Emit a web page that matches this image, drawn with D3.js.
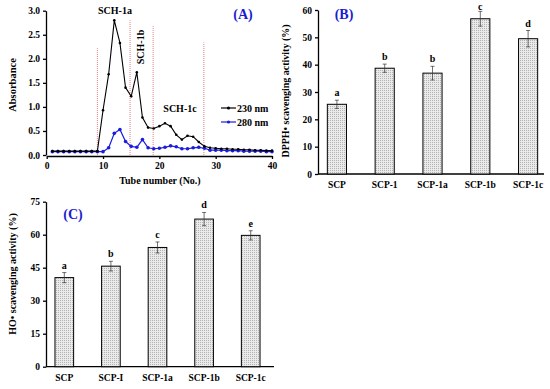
<!DOCTYPE html>
<html>
<head>
<meta charset="utf-8">
<script src="https://cdn.jsdelivr.net/npm/d3@7"></script>
<style>
  body { margin: 0; background: #fff; }
  svg text { font-family: "Liberation Serif", "Times New Roman", serif; font-weight: bold; }
</style>
</head>
<body>
<div id="chart"></div>
<script>
// panel A: elution profile
var tubes = d3.range(1, 41);
var abs230 = [0.08,0.08,0.08,0.08,0.08,0.08,0.08,0.08,0.08,0.93,1.68,2.8,2.33,1.4,1.22,1.72,0.78,0.57,0.55,0.6,0.66,0.6,0.42,0.32,0.4,0.38,0.27,0.18,0.15,0.14,0.13,0.13,0.12,0.12,0.11,0.11,0.1,0.1,0.09,0.09];
var abs280 = [0.07,0.07,0.07,0.07,0.07,0.07,0.07,0.07,0.07,0.07,0.15,0.45,0.53,0.28,0.18,0.16,0.32,0.15,0.13,0.14,0.16,0.19,0.17,0.13,0.13,0.15,0.16,0.14,0.1,0.1,0.1,0.09,0.09,0.09,0.08,0.08,0.08,0.08,0.07,0.07];
var cutTubes = [9, 14.8, 18.9, 27.9],
    cutTops = [2.22, 2.8, 2.68, 2.34];

// panel B: DPPH
var catsB = ["SCP", "SCP-1", "SCP-1a", "SCP-1b", "SCP-1c"];
var dpph = [25.5, 38.7, 36.9, 56.8, 49.5],
    dpphErr = [1.5, 1.5, 2.5, 2.7, 3.0],
    dpphLetters = ["a", "b", "b", "c", "d"];

// panel C: HO
var catsC = ["SCP", "SCP-I", "SCP-1a", "SCP-1b", "SCP-1c"];
var ho = [40.5, 45.7, 54.2, 67.1, 59.7],
    hoErr = [2.3, 2.2, 2.5, 3.0, 2.1],
    hoLetters = ["a", "b", "c", "d", "e"];

var svg = d3.select("#chart").append("svg")
  .attr("width", 550).attr("height", 389);

// light dotted fill like the original bars
var defs = svg.append("defs");
var pat = defs.append("pattern")
  .attr("id", "dots").attr("patternUnits", "userSpaceOnUse")
  .attr("width", 2).attr("height", 2);
pat.append("rect").attr("width", 2).attr("height", 2).attr("fill", "#eaeaea");
pat.append("rect").attr("width", 1).attr("height", 1).attr("fill", "#b4b4b4");

function styleAxis(g) {
  g.selectAll("path, line").attr("stroke", "#000").attr("stroke-width", 1.3);
  g.selectAll("text").attr("font-size", 9.5).attr("fill", "#000")
    .style("font-family", "'Liberation Serif', serif").style("font-weight", "bold");
}

// ---------- Panel A ----------
var xA = d3.scaleLinear().domain([0, 40]).range([46.7, 272]);
var yA = d3.scaleLinear().domain([0, 3]).range([155, 10.7]);

svg.append("g").attr("transform", "translate(0,156)")
  .call(d3.axisBottom(xA).tickValues([0, 10, 20, 30, 40]).tickSize(3).tickSizeOuter(0))
  .call(styleAxis);
svg.append("g").attr("transform", "translate(46,0)")
  .call(d3.axisLeft(yA).tickValues(d3.range(0, 3.01, 0.5)).tickFormat(d3.format(".1f")).tickSize(3).tickSizeOuter(0))
  .call(styleAxis);

svg.append("text").attr("x", 160).attr("y", 184).attr("text-anchor", "middle")
  .attr("font-size", 10).text("Tube number (No.)");
svg.append("text").attr("transform", "translate(16,85) rotate(-90)").attr("text-anchor", "middle")
  .attr("font-size", 10.5).text("Absorbance");

svg.selectAll(".cut").data(cutTubes).enter().append("line")
  .attr("x1", d => xA(d)).attr("x2", d => xA(d))
  .attr("y1", yA(0)).attr("y2", (d, i) => yA(cutTops[i]))
  .attr("stroke", "#e06060").attr("stroke-width", 0.8).attr("stroke-dasharray", "1,1");

var lineA = d3.line().x((d, i) => xA(tubes[i])).y(d => yA(d));
svg.append("path").datum(abs280).attr("d", lineA)
  .attr("fill", "none").attr("stroke", "#1c1ce0").attr("stroke-width", 1.2);
svg.selectAll(".p280").data(abs280).enter().append("circle")
  .attr("cx", (d, i) => xA(tubes[i])).attr("cy", d => yA(d)).attr("r", 1.8).attr("fill", "#1c1ce0");
svg.append("path").datum(abs230).attr("d", lineA)
  .attr("fill", "none").attr("stroke", "#000").attr("stroke-width", 1.1);
svg.selectAll(".p230").data(abs230).enter().append("circle")
  .attr("cx", (d, i) => xA(tubes[i])).attr("cy", d => yA(d)).attr("r", 1.3).attr("fill", "#000");

svg.append("text").attr("x", 115).attr("y", 14).attr("text-anchor", "middle").attr("font-size", 10).text("SCH-1a");
svg.append("text").attr("transform", "translate(144,47) rotate(-90)").attr("text-anchor", "middle").attr("font-size", 10).text("SCH-1b");
svg.append("text").attr("x", 180).attr("y", 112).attr("text-anchor", "middle").attr("font-size", 10).text("SCH-1c");
svg.append("text").attr("x", 243).attr("y", 19).attr("text-anchor", "middle").attr("font-size", 14)
  .attr("fill", "#1c1cd0").text("(A)");

var legA = [{t: "230 nm", c: "#000", y: 108}, {t: "280 nm", c: "#1c1ce0", y: 122}];
legA.forEach(l => {
  svg.append("line").attr("x1", 221).attr("x2", 236).attr("y1", l.y).attr("y2", l.y)
    .attr("stroke", l.c).attr("stroke-width", 1.2);
  svg.append("circle").attr("cx", 228.5).attr("cy", l.y).attr("r", 1.6).attr("fill", l.c);
  svg.append("text").attr("x", 237).attr("y", l.y + 3.5).attr("font-size", 10).text(l.t);
});

// ---------- bar panels ----------
function barPanel(cfg) {
  var x = d3.scaleBand().domain(cfg.cats).range(cfg.xr).paddingInner(0.6).paddingOuter(0.3);
  var y = d3.scaleLinear().domain([0, cfg.max]).range(cfg.yr);
  var g = svg.append("g");

  g.append("g").attr("transform", `translate(${cfg.axisX},0)`)
    .call(d3.axisLeft(y).tickValues(cfg.ticks).tickSize(3).tickSizeOuter(0))
    .call(styleAxis);
  g.append("line").attr("x1", cfg.axisX).attr("x2", cfg.axisEnd)
    .attr("y1", cfg.yr[0]).attr("y2", cfg.yr[0]).attr("stroke", "#000").attr("stroke-width", 1.3);
  g.selectAll(".xl").data(cfg.cats).enter().append("text")
    .attr("x", d => x(d) + x.bandwidth() / 2).attr("y", cfg.yr[0] + 14)
    .attr("text-anchor", "middle").attr("font-size", 9.5).text(d => d);

  g.selectAll(".bar").data(cfg.vals).enter().append("rect")
    .attr("x", (d, i) => x(cfg.cats[i])).attr("width", x.bandwidth())
    .attr("y", d => y(d)).attr("height", d => cfg.yr[0] - y(d))
    .attr("fill", "url(#dots)").attr("stroke", "#000").attr("stroke-width", 1);

  cfg.vals.forEach((v, i) => {
    var cx = x(cfg.cats[i]) + x.bandwidth() / 2;
    var top = y(v + cfg.err[i]), bot = y(v - cfg.err[i]);
    g.append("line").attr("x1", cx).attr("x2", cx).attr("y1", top).attr("y2", bot)
      .attr("stroke", "#333").attr("stroke-width", 0.7);
    [top, bot].forEach(yy => g.append("line").attr("x1", cx - 2).attr("x2", cx + 2)
      .attr("y1", yy).attr("y2", yy).attr("stroke", "#333").attr("stroke-width", 0.7));
    g.append("text").attr("x", cx).attr("y", Math.max(top - 4, 9.5)).attr("text-anchor", "middle")
      .attr("font-size", 10).text(cfg.letters[i]);
  });

  g.append("text").attr("transform", `translate(${cfg.labelX},${cfg.labelY}) rotate(-90)`)
    .attr("text-anchor", "middle").attr("font-size", cfg.labelSize).text(cfg.label);
  g.append("text").attr("x", cfg.tagX).attr("y", cfg.tagY).attr("text-anchor", "middle")
    .attr("font-size", 14).attr("fill", "#1c1cd0").text(cfg.tag);
}

barPanel({
  cats: catsB, vals: dpph, err: dpphErr, letters: dpphLetters, max: 60,
  ticks: d3.range(0, 61, 10), xr: [313, 552], yr: [174, 10], axisX: 318, axisEnd: 544,
  label: "DPPH• scavenging activity (%)", labelSize: 10, labelX: 289, labelY: 91,
  tag: "(B)", tagX: 344, tagY: 19
});

barPanel({
  cats: catsC, vals: ho, err: hoErr, letters: hoLetters, max: 75,
  ticks: d3.range(0, 76, 15), xr: [41, 274], yr: [366.7, 201.7], axisX: 46, axisEnd: 274,
  label: "HO• scavenging activity (%)", labelSize: 10, labelX: 16, labelY: 274,
  tag: "(C)", tagX: 73, tagY: 219
});
</script>
</body>
</html>
